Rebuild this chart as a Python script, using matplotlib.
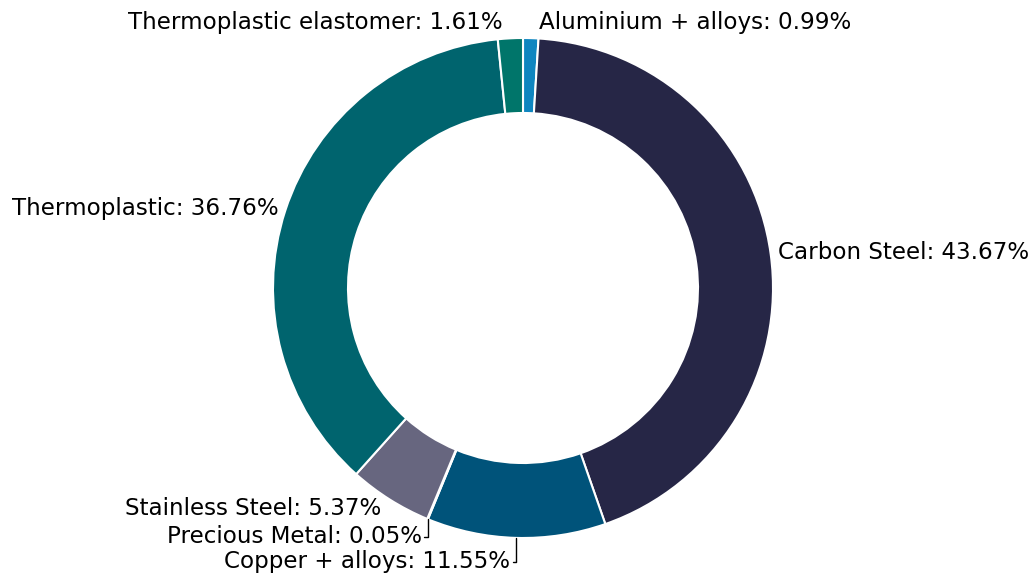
import numpy as np
import matplotlib.pyplot as plt

materials = ["Aluminium + alloys", "Carbon Steel", "Copper + alloys", "Precious Metal",
             "Stainless Steel", "Thermoplastic", "Thermoplastic elastomer"]
shares = [0.99, 43.67, 11.55, 0.05, 5.37, 36.76, 1.61]
colors = ["#0f86c0", "#262646", "#00537a", "#3b4a6b", "#67667f", "#00646e", "#00756a"]

fig = plt.figure(figsize=(10.35, 5.75), dpi=100)
ax = fig.add_axes([0, 0, 1, 1])

wedges, _ = ax.pie(shares, colors=colors, startangle=90, counterclock=False,
                   radius=1.0, wedgeprops=dict(width=0.3, edgecolor="white", linewidth=1.5))

ax.set_aspect("equal")
ax.set_xlim(-523 / 250, (1035 - 523) / 250)
ax.set_ylim(-(575 - 288) / 250, 288 / 250)
ax.axis("off")

fs = 16.6
for w, name, val in zip(wedges, materials, shares):
    ang = np.deg2rad((w.theta1 + w.theta2) / 2)
    cx, cy = np.cos(ang), np.sin(ang)
    text = f"{name}: {val:.2f}%"
    ha = "left" if cx > 0 else "right"
    if name in ("Precious Metal", "Copper + alloys"):
        # label below the wedge, joined with an elbow line
        dy = -0.07 if name == "Precious Metal" else -0.096
        ax.annotate(text, xy=(cx, cy), xytext=(cx - 0.024, cy + dy),
                    ha="right", va="center", fontsize=fs,
                    arrowprops=dict(arrowstyle="-", color="black", lw=1,
                                    shrinkA=0, shrinkB=0,
                                    connectionstyle="angle,angleA=0,angleB=90,rad=0"))
    elif name in ("Aluminium + alloys", "Thermoplastic elastomer"):
        ax.text(cx * 1.03 + (0.03 if cx > 0 else -0.03), 1.064, text,
                ha=ha, va="center", fontsize=fs)
    elif name == "Stainless Steel":
        ax.text(cx * 1.03 - 0.02, cy * 1.03 - 0.012, text, ha=ha, va="center", fontsize=fs)
    else:
        ax.text(cx * 1.03, cy * 1.03, text, ha=ha, va="center", fontsize=fs)

fig.savefig("out.png", dpi=100)
